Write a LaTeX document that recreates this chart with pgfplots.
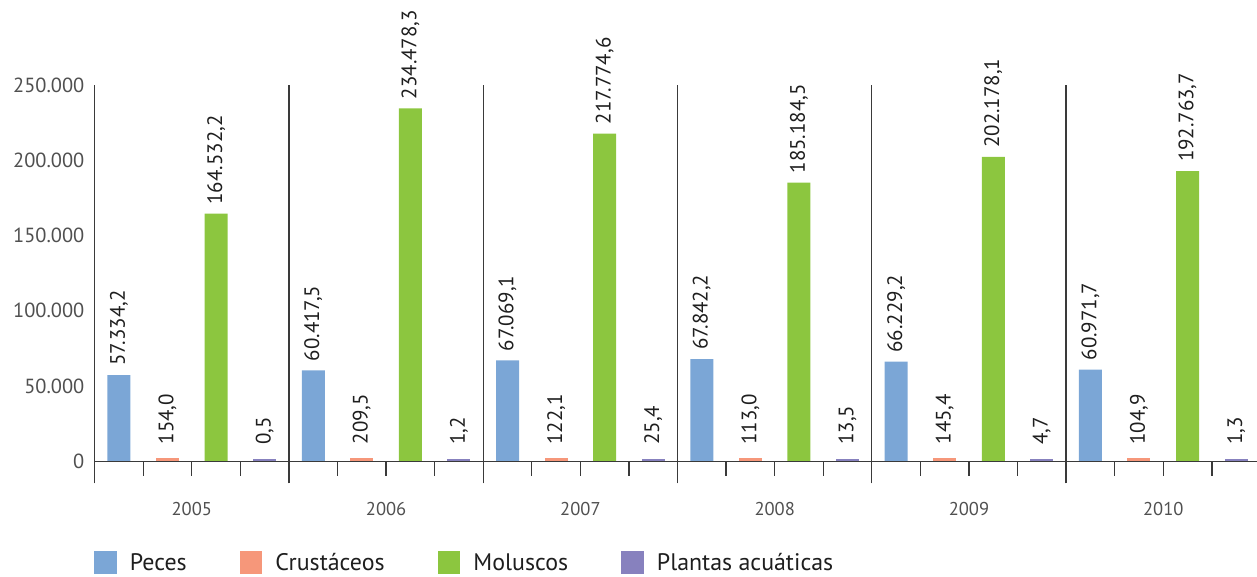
\documentclass[border=0pt]{standalone}
\usepackage{fontspec}
\setmainfont{PT Sans}
\usepackage{pgfplots}
\usepackage{pgfplotstable}
\pgfplotsset{compat=1.18}
\definecolor{cPeces}{RGB}{123,166,214}
\definecolor{cCrus}{RGB}{246,151,122}
\definecolor{cMol}{RGB}{140,198,63}
\definecolor{cPla}{RGB}{135,129,190}
\definecolor{axisgray}{RGB}{58,58,58}
\definecolor{tickgray}{RGB}{80,80,80}
\definecolor{labelblack}{RGB}{30,30,30}

\pgfplotstableread{
x y label
0.5 57334.2 57.334,2
4.5 60417.5 60.417,5
8.5 67069.1 67.069,1
12.5 67842.2 67.842,2
16.5 66229.2 66.229,2
20.5 60971.7 60.971,7
}\peces
\pgfplotstableread{
x y label
1.5 154.0 154,0
5.5 209.5 209,5
9.5 122.1 122,1
13.5 113.0 113,0
17.5 145.4 145,4
21.5 104.9 104,9
}\crus
\pgfplotstableread{
x y label
2.5 164532.2 164.532,2
6.5 234478.3 234.478,3
10.5 217774.6 217.774,6
14.5 185184.5 185.184,5
18.5 202178.1 202.178,1
22.5 192763.7 192.763,7
}\mol
\pgfplotstableread{
x y label
3.5 0.5 0,5
7.5 1.2 1,2
11.5 25.4 25,4
15.5 13.5 13,5
19.5 4.7 4,7
23.5 1.3 1,3
}\pla

\begin{document}
\begin{tikzpicture}
\path[use as bounding box] (0,0) rectangle (1257bp,577bp);
\begin{axis}[
  at={(94.7bp,115.7bp)}, anchor=south west,
  scale only axis, width=1162.3bp, height=376.3bp,
  xmin=0, xmax=23.93, ymin=0, ymax=250000,
  axis on top,
  axis x line*=bottom, axis y line*=left,
  y axis line style={draw=none},
  x axis line style={draw=axisgray, line width=1.3bp, -},
  ytick={0,50000,100000,150000,200000,250000},
  yticklabels={0,50.000,100.000,150.000,200.000,250.000},
  scaled y ticks=false,
  ytick style={draw=none},
  yticklabel style={font=\fontsize{20.5}{21}\selectfont, text=tickgray, inner sep=0pt, anchor=east, xshift=4.3bp},
  xtick={1,2,3,5,6,7,9,10,11,13,14,15,17,18,19,21,22,23},
  xticklabels={,2005,,,2006,,,2007,,,2008,,,2009,,,2010,},
  xtick style={draw=axisgray, line width=1.3bp},
  major tick length=14.5bp, tick align=outside,
  xticklabel style={font=\fontsize{18.6}{20}\selectfont, text=tickgray, inner sep=0pt, anchor=center, yshift=-33bp},
  extra x ticks={0,4,8,12,16,20},
  extra x tick labels={},
  extra x tick style={major tick length=22bp, grid=major, tick align=outside},
  major grid style={draw=axisgray, line width=1.3bp},
  point meta=explicit symbolic,
  nodes near coords,
  every node near coord/.append style={rotate=90, anchor=west, inner ysep=0pt, inner xsep=9bp, font=\fontsize{21}{22}\selectfont, text=labelblack},
  legend style={at={(0,0)}, anchor=west, xshift=-0.7bp, yshift=-101.5bp, draw=none, fill=none, inner sep=0pt,
    font=\fontsize{24}{26}\selectfont, text=labelblack,
    /tikz/every odd column/.append style={column sep=13bp},
    /tikz/every even column/.append style={column sep=53bp},
    nodes={inner sep=0pt}},
  legend columns=4,
  legend cell align=left,
  mybar/.style={ybar, bar width=23bp, draw=none,
    legend image code/.code={\fill[##1, draw=none] (0bp,-11.35bp) rectangle (22.7bp,11.35bp);}},
  smallbar/.style={ybar, bar width=17.6bp, line width=5.4bp,
    every node near coord/.append style={inner xsep=14bp},
    legend image code/.code={\fill[##1, draw=none] (0bp,-11.35bp) rectangle (22.7bp,11.35bp);}},
]
\addplot[mybar, fill=cPeces] table[x=x, y=y, meta=label] {\peces};
\addlegendentry{Peces}
\addplot[smallbar, fill=cCrus, draw=cCrus] table[x=x, y=y, meta=label] {\crus};
\addlegendentry{Crustáceos}
\addplot[mybar, fill=cMol] table[x=x, y=y, meta=label] {\mol};
\addlegendentry{Moluscos}
\addplot[smallbar, fill=cPla, draw=cPla] table[x=x, y=y, meta=label] {\pla};
\addlegendentry{Plantas acuáticas}
\end{axis}
\end{tikzpicture}
\end{document}
